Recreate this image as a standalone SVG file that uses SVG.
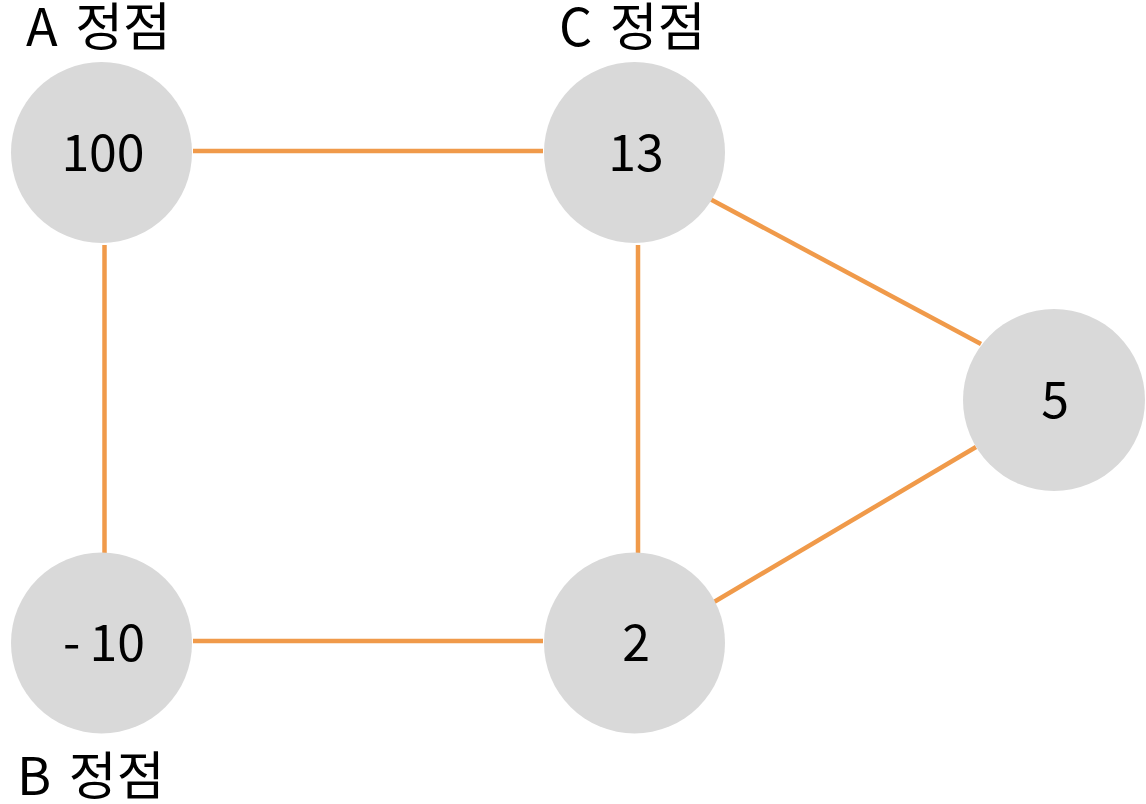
<svg xmlns="http://www.w3.org/2000/svg" width="1146" height="804" viewBox="0 0 1146 804">
<style>
.n{fill:#d9d9d9}
.t{font-family:"Noto Sans CJK KR","Noto Sans",sans-serif;font-size:50px;fill:#000;text-anchor:middle}
.l{font-family:"Noto Sans CJK KR","Noto Sans",sans-serif;font-size:52px;fill:#000;word-spacing:6px}
.e{stroke:#f09a4a;stroke-width:4.5;fill:none}
</style>
<rect width="1146" height="804" fill="#fff"/>
<g id="edges">
<line class="e" x1="193" y1="151" x2="543" y2="151"/>
<line class="e" x1="104.5" y1="245" x2="104.5" y2="553"/>
<line class="e" x1="193" y1="641" x2="543" y2="641"/>
<line class="e" x1="638" y1="245" x2="638" y2="553"/>
<line class="e" x1="710" y1="199" x2="981" y2="344"/>
<line class="e" x1="714" y1="602" x2="976" y2="447"/>
</g>
<g id="nodeA"><circle class="n" cx="101.5" cy="152.5" r="90.5"/><text class="t" x="103" y="171">100</text><text class="l" x="26" y="46">A 정점</text></g>
<g id="nodeC"><circle class="n" cx="634.5" cy="152.5" r="90.5"/><text class="t" x="636" y="171">13</text><text class="l" x="559" y="46">C 정점</text></g>
<g id="nodeB"><circle class="n" cx="101.5" cy="643" r="90.5"/><text class="t" x="104" y="661">-<tspan dx="9">10</tspan></text><text class="l" x="17" y="795">B 정점</text></g>
<g id="node2"><circle class="n" cx="634.5" cy="643" r="90.5"/><text class="t" x="636" y="661">2</text></g>
<g id="node5"><circle class="n" cx="1054" cy="400" r="91"/><text class="t" x="1055" y="418">5</text></g>
</svg>
